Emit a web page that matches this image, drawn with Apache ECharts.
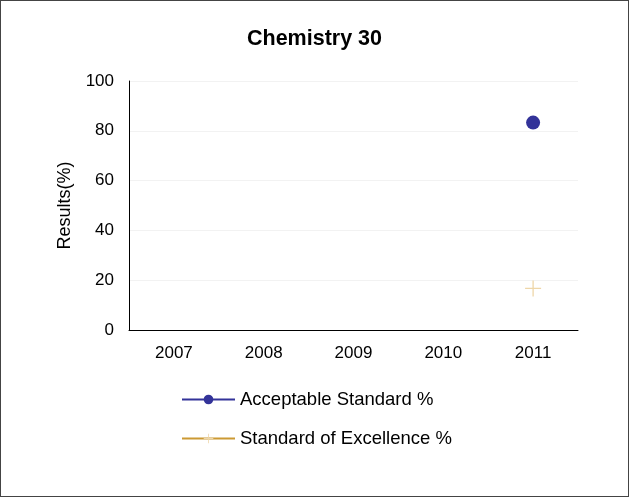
<!DOCTYPE html>
<html>
<head>
<meta charset="utf-8">
<script src="https://cdn.jsdelivr.net/npm/echarts@6/dist/echarts.min.js"></script>
<style>
  html, body { margin: 0; padding: 0; background: #fff; }
  #frame { width: 629px; height: 497px; box-sizing: border-box; border: 1px solid #444; }
  #chart { width: 627px; height: 495px; }
</style>
</head>
<body>
<div id="frame"><div id="chart"></div></div>
<script>
var years = ['2007', '2008', '2009', '2010', '2011'];
var acceptable = [null, null, null, null, 83.3];
var excellence = [null, null, null, null, 16.7];
var yTicks = [0, 20, 40, 60, 80, 100];

var font = 'Liberation Sans, Arial, sans-serif';
var myChart = echarts.init(document.getElementById('chart'));

var option = {
    animation: false,
    textStyle: { fontFamily: font },
    title: {
        text: 'Chemistry 30',
        left: 'center',
        top: 22,
        textStyle: { fontSize: 21.5, fontWeight: 'bold', color: '#000', fontFamily: font }
    },
    grid: { left: 128, right: 50, top: 80, bottom: 166 },
    legend: {
        orient: 'vertical',
        left: 175,
        top: 384,
        itemWidth: 53,
        itemHeight: 12,
        itemGap: 20,
        textStyle: { fontSize: 18.5, lineHeight: 18, color: '#000', fontFamily: font },
        data: ['Acceptable Standard %', 'Standard of Excellence %']
    },
    xAxis: {
        type: 'category',
        data: years,
        boundaryGap: true,
        axisLine: { lineStyle: { color: '#000', width: 1 } },
        axisTick: { show: false },
        axisLabel: { fontSize: 17, color: '#000', margin: 15 },
        splitLine: { show: false }
    },
    yAxis: {
        type: 'value',
        min: yTicks[0],
        max: yTicks[yTicks.length - 1],
        interval: 20,
        name: 'Results(%)',
        nameLocation: 'middle',
        nameGap: 55,
        nameTextStyle: { fontSize: 18, color: '#000' },
        axisLine: { show: true, lineStyle: { color: '#000', width: 1 } },
        axisTick: { show: false },
        axisLabel: { fontSize: 17, color: '#000', margin: 15 },
        splitLine: { lineStyle: { color: '#f2f2f2', width: 1 } }
    },
    series: [{
            name: 'Acceptable Standard %',
            type: 'line',
            data: acceptable,
            symbol: 'circle',
            symbolSize: 14,
            showSymbol: true,
            color: '#333399',
            lineStyle: { width: 2, color: '#333399' },
            itemStyle: { color: '#333399' }
        },
        {
            name: 'Standard of Excellence %',
            type: 'line',
            data: excellence,
            symbol: 'path://M4.6,0h0.8v4.6h4.6v0.8h-4.6v4.6h-0.8v-4.6h-4.6v-0.8h4.6z',
            symbolSize: 16,
            showSymbol: true,
            color: '#CC9933',
            lineStyle: { width: 2, color: '#CC9933' },
            itemStyle: { color: '#EED6A8' }
        }
    ]
};
myChart.setOption(option);
</script>
</body>
</html>
